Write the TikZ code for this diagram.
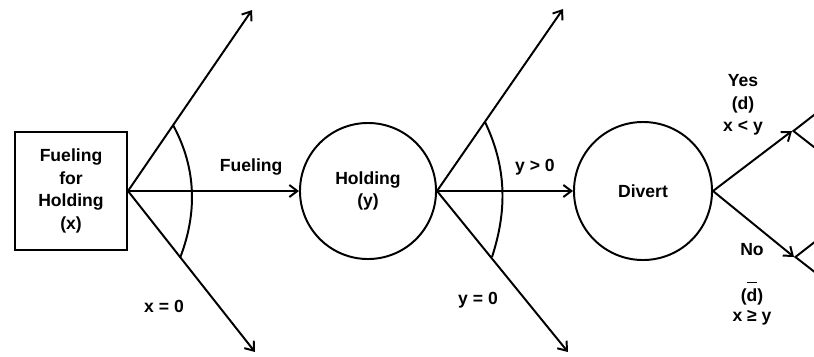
\documentclass[tikz,border=0pt]{standalone}
\usepackage{fontspec}
\setmainfont{Liberation Sans}
\usetikzlibrary{arrows.meta,positioning,shapes.geometric}

\begin{document}
\begin{tikzpicture}[x=0.025cm,y=-0.025cm,
  font=\bfseries\fontsize{12.5}{16}\selectfont,
  ln/.style={line width=1.4pt},
  e/.style={ln,-{Straight Barb[length=2mm,width=3mm,line width=1.4pt]}},
  st/.style={draw,ln,align=center,inner sep=0pt},
  dm/.style={st,diamond,minimum width=3cm,minimum height=2.34cm,anchor=west},
  lbl/.style={align=center,inner sep=0pt}]
  \useasboundingbox (0,0) rectangle (814,356);
  \clip (0,0) rectangle (814,356);
  \node[st,minimum width=2.8cm,minimum height=2.95cm] (fh) at (71,191) {Fueling\\for\\Holding\\(x)};
  \node[st,circle,minimum size=3.4cm] (hd) at (368,191) {Holding\\(y)};
  \node[st,circle,minimum size=3.45cm] (dv) at (643,191) {Divert};
  % next decisions, cut off at the right edge
  \node[dm] (ny) at (792,131) {};
  \node[dm] (nn) at (794,257) {};
  \coordinate (fu) at (252,10);  \coordinate (fd) at (255,352);
  \coordinate (hu) at (563,9);   \coordinate (hl) at (568,352);
  \draw[e] (fh.east) -- (fu);
  \draw[e] (fh.east) -- (fd);
  \draw[e] (fh.east) -- node[pos=.72,above=2.5mm]{Fueling} (hd.west);
  \draw[e] (hd.east) -- (hu);
  \draw[e] (hd.east) -- (hl);
  \draw[e] (hd.east) -- node[pos=.72,above=2.5mm]{y > 0} (dv.west);
  \draw[e] (dv.east) -- (ny.west);
  \draw[e] (dv.east) -- (nn.west);
  % arcs over the fans
  \draw[ln] (173,125) .. controls (197,169) and (197,214) .. (180,258);
  \draw[ln] (485,122) .. controls (507,168) and (507,211) .. (492,257);
  \node[lbl] (x0) at (164,306) {x = 0};
  \node[lbl] (y0) at (478,300) {y = 0};
  \node[lbl] (yes) at (743,105) {Yes\\(d)\\x < y};
  \node[lbl] (no) at (752,250) {No};
  \node[lbl,anchor=base] (nd) at (752,301) {($\overline{\raisebox{0pt}[12pt]{d}}$)};
  \node[lbl] (ng) at (752,318) {x ≥ y};
\end{tikzpicture}
\end{document}
